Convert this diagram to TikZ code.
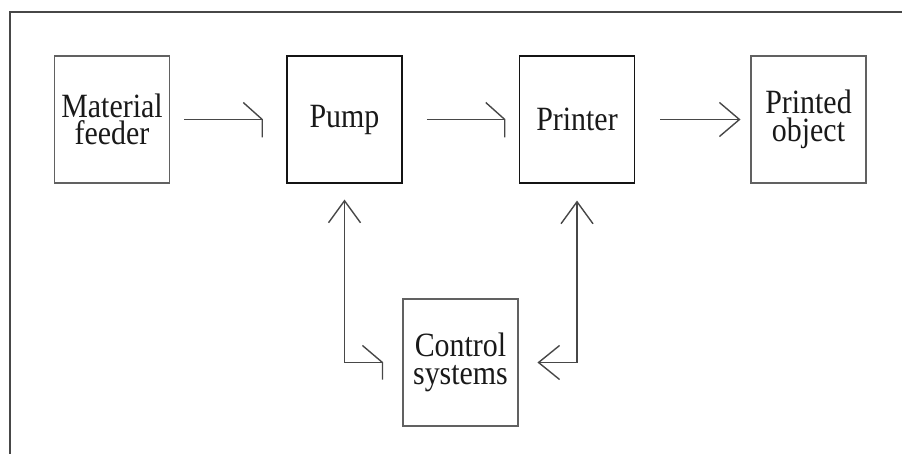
\documentclass[tikz,border=0pt]{standalone}
\usepackage{fontspec}
\setmainfont[FakeStretch=0.88]{Liberation Serif}
\usetikzlibrary{calc}
\begin{document}
\begin{tikzpicture}[x=1pt,y=-1pt,
  box/.style={draw=black!62, line width=1.1pt, minimum width=115pt, minimum height=127pt,
    inner sep=0pt, align=center, font=\fontsize{34}{27.5}\selectfont, text=black!90},
  darkbox/.style={box, draw=black!92, line width=1.5pt},
  conn/.style={draw=black!72, line width=1.4pt},
  frame/.style={draw=black!72, line width=1.5pt}
]
\useasboundingbox (0,0) rectangle (902,454);
% outer frame
\coordinate (fbl) at (10,454);
\coordinate (ftl) at (10,12);
\coordinate (ftr) at (902,12);
\draw[frame] (fbl) -- (ftl) -- (ftr);
% boxes
\node[box]     (mf)   at (112,119.5) {Material\\feeder};
\node[darkbox] (pump) at (344.5,119.5) {Pump};
\node[darkbox] (prn)  at (577,119.5) {Printer};
\node[box]     (obj)  at (808.5,119.5) {Printed\\object};
\node[box]     (ctrl) at (460.5,362.5) {Control\\systems};
% feeder -> pump
\coordinate (a1s) at ($(mf.east)+(14,0)$);
\coordinate (a1e) at ($(pump.west)+(-24,0)$);
\draw[conn] (a1s) -- (a1e);
\draw[conn] ($(a1e)+(-19,-17)$) -- (a1e) -- ($(a1e)+(0,18)$);
% pump -> printer
\coordinate (a2s) at ($(pump.east)+(24,0)$);
\coordinate (a2e) at ($(prn.west)+(-14,0)$);
\draw[conn] (a2s) -- (a2e);
\draw[conn] ($(a2e)+(-19,-17)$) -- (a2e) -- ($(a2e)+(0,18)$);
% printer -> object
\coordinate (a3s) at ($(prn.east)+(25,0)$);
\coordinate (a3e) at ($(obj.west)+(-11,0)$);
\draw[conn] (a3s) -- (a3e);
\draw[conn] ($(a3e)+(-20,-17)$) -- (a3e) -- ($(a3e)+(-20,17)$);
% pump <-> control
\coordinate (a4t) at ($(pump.south)+(0,17)$);
\coordinate (a4c) at (a4t |- ctrl.center);
\coordinate (a4e) at ($(ctrl.west)+(-20,0)$);
\draw[conn] (a4t) -- (a4c) -- (a4e);
\draw[conn] ($(a4t)+(-16,22)$) -- (a4t) -- ($(a4t)+(16,22)$);
\draw[conn] ($(a4e)+(-20,-17)$) -- (a4e) -- ($(a4e)+(0,17)$);
% printer <-> control
\coordinate (a5t) at ($(prn.south)+(0,18)$);
\coordinate (a5c) at (a5t |- ctrl.center);
\coordinate (a5e) at ($(ctrl.east)+(20,0)$);
\draw[conn] (a5t) -- (a5c) -- (a5e);
\draw[conn] ($(a5t)+(-16,22)$) -- (a5t) -- ($(a5t)+(16,22)$);
\draw[conn] ($(a5e)+(21,-17)$) -- (a5e) -- ($(a5e)+(21,17)$);
\end{tikzpicture}
\end{document}
